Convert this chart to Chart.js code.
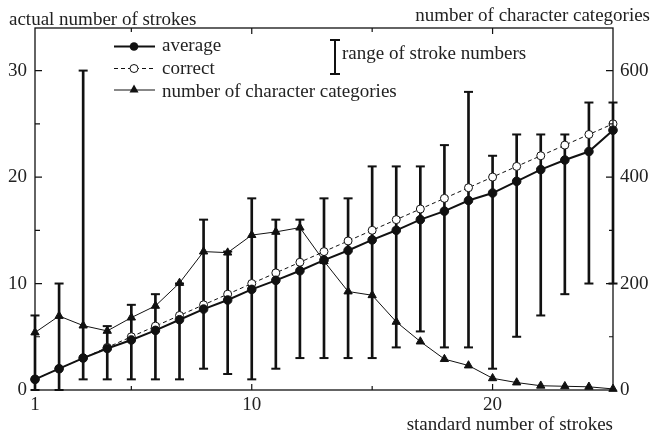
<!DOCTYPE html>
<html>
<head>
<meta charset="utf-8">
<script src="https://cdn.jsdelivr.net/npm/chart.js@4/dist/chart.umd.min.js"></script>
<style>
  html, body { margin: 0; padding: 0; background: #fff; }
  #wrap { width: 653px; height: 437px; position: relative; }
</style>
</head>
<body>
<div id="wrap"><canvas id="c"></canvas></div>
<script>
// Standard stroke counts (x axis)
const standardStrokes = [1,2,3,4,5,6,7,8,9,10,11,12,13,14,15,16,17,18,19,20,21,22,23,24,25];
// Average number of strokes actually written
const averageStrokes = [1.0,2.0,3.0,3.9,4.7,5.6,6.6,7.6,8.45,9.45,10.3,11.2,12.2,13.1,14.1,15.0,16.0,16.8,17.8,18.5,19.6,20.7,21.6,22.4,24.4];
// Correct number of strokes
const correctStrokes = [1,2,3,4,5,6,7,8,9,10,11,12,13,14,15,16,17,18,19,20,21,22,23,24,25];
// Number of character categories per stroke count (right axis)
const categoryCounts = [108,139,121,111,136,158,201,260,258,291,297,305,242,185,178,128,91,58,46,22,14,8,7,6,2];
// Range of stroke numbers (min / max)
const rangeMin = [0,0,1,1,1,1,1,2,1.5,1,2,3,3,3,3,4,5.5,4,4,2,5,7,9,10,10];
const rangeMax = [7,10,30,6,8,9,10,16,13,18,16,16,18,18,21,21,21,23,28,22,24,24,24,27,27];

// Tick labels and tick marks
const xTickLabels = [1, 10, 20];
const xMajorTicks = [10, 20];
const xMinorTicks = [5, 15];
const yTickLabels = [0, 10, 20, 30];
const yMinorTicks = [5, 15, 25];
const y2TickLabels = [0, 200, 400, 600];
const y2MinorTicks = [100, 300, 500];

const FONT = '"Liberation Serif", "Times New Roman", serif';
const INK = '#111';
const TEXT = '#222';

const pts = (ys) => standardStrokes.map((x, i) => ({ x: x, y: ys[i] }));

// Frame, inward tick marks, axis captions and legend
const decorations = {
  id: 'decorations',
  afterDraw(chart) {
    const { ctx, chartArea: a, scales } = chart;
    const xs = scales.x, ys = scales.y, y2 = scales.y2;
    ctx.save();
    ctx.strokeStyle = INK;
    ctx.lineWidth = 1.3;
    ctx.strokeRect(a.left, a.top, a.right - a.left, a.bottom - a.top);

    ctx.lineWidth = 1.2;
    ctx.beginPath();
    const vTick = (v, len) => {
      const px = xs.getPixelForValue(v);
      ctx.moveTo(px, a.bottom); ctx.lineTo(px, a.bottom - len);
      ctx.moveTo(px, a.top); ctx.lineTo(px, a.top + len);
    };
    xMajorTicks.forEach(v => vTick(v, 6));
    xMinorTicks.forEach(v => vTick(v, 4));
    yTickLabels.slice(1).forEach(v => {
      const py = ys.getPixelForValue(v);
      ctx.moveTo(a.left, py); ctx.lineTo(a.left + 7, py);
    });
    yMinorTicks.forEach(v => {
      const py = ys.getPixelForValue(v);
      ctx.moveTo(a.left, py); ctx.lineTo(a.left + 5, py);
    });
    y2TickLabels.slice(1).forEach(v => {
      const py = y2.getPixelForValue(v);
      ctx.moveTo(a.right, py); ctx.lineTo(a.right - 7, py);
    });
    y2MinorTicks.forEach(v => {
      const py = y2.getPixelForValue(v);
      ctx.moveTo(a.right, py); ctx.lineTo(a.right - 4, py);
    });
    ctx.stroke();

    // Axis captions
    ctx.fillStyle = TEXT;
    ctx.font = '19px ' + FONT;
    ctx.textBaseline = 'alphabetic';
    ctx.textAlign = 'left';
    ctx.fillText('actual number of strokes', 9, 25);
    ctx.textAlign = 'right';
    ctx.fillText('number of character categories', 650, 21);
    ctx.fillText('standard number of strokes', 613, 430);

    // Legend
    ctx.textAlign = 'left';
    const lx0 = 114, lx1 = 155, mx = 134, tx = 162;
    // average
    ctx.setLineDash([]);
    ctx.lineWidth = 2;
    ctx.beginPath(); ctx.moveTo(lx0, 46.5); ctx.lineTo(lx1, 46.5); ctx.stroke();
    ctx.fillStyle = INK;
    ctx.beginPath(); ctx.arc(mx, 46.5, 4.3, 0, Math.PI * 2); ctx.fill();
    ctx.fillStyle = TEXT;
    ctx.fillText('average', tx, 51);
    // correct
    ctx.lineWidth = 1;
    ctx.setLineDash([4, 3]);
    ctx.beginPath(); ctx.moveTo(lx0, 68.5); ctx.lineTo(lx1, 68.5); ctx.stroke();
    ctx.setLineDash([]);
    ctx.fillStyle = '#fff';
    ctx.beginPath(); ctx.arc(mx, 68.5, 4, 0, Math.PI * 2); ctx.fill(); ctx.stroke();
    ctx.fillStyle = TEXT;
    ctx.fillText('correct', tx, 73.5);
    // number of character categories
    ctx.beginPath(); ctx.moveTo(lx0, 90); ctx.lineTo(lx1, 90); ctx.stroke();
    ctx.fillStyle = INK;
    ctx.beginPath();
    ctx.moveTo(mx, 84.5); ctx.lineTo(mx + 4.5, 92.5); ctx.lineTo(mx - 4.5, 92.5); ctx.closePath(); ctx.fill();
    ctx.fillStyle = TEXT;
    ctx.fillText('number of character categories', tx, 96.5);
    // range of stroke numbers
    ctx.lineWidth = 2;
    ctx.beginPath();
    ctx.moveTo(335, 40); ctx.lineTo(335, 74);
    ctx.moveTo(330, 40); ctx.lineTo(340, 40);
    ctx.moveTo(330, 74); ctx.lineTo(340, 74);
    ctx.stroke();
    ctx.fillText('range of stroke numbers', 342, 58.5);
    ctx.restore();
  }
};

new Chart(document.getElementById('c'), {
  type: 'line',
  data: {
    datasets: [
      {
        label: 'average',
        data: pts(averageStrokes),
        yAxisID: 'y',
        borderColor: INK, borderWidth: 2,
        pointRadius: 4.3, pointBackgroundColor: INK, pointBorderColor: INK, pointBorderWidth: 1,
        clip: false, order: 1
      },
      {
        label: 'correct',
        data: pts(correctStrokes),
        yAxisID: 'y',
        borderColor: INK, borderWidth: 1, borderDash: [4, 3],
        pointRadius: 4, pointBackgroundColor: '#fff', pointBorderColor: INK, pointBorderWidth: 1,
        clip: false, order: 2
      },
      {
        label: 'number of character categories',
        data: pts(categoryCounts),
        yAxisID: 'y2',
        borderColor: INK, borderWidth: 1,
        pointStyle: 'triangle', pointRadius: 4.8,
        pointBackgroundColor: INK, pointBorderColor: INK, pointBorderWidth: 1,
        clip: false, order: 3
      },
      {
        type: 'bar',
        label: 'range of stroke numbers',
        data: standardStrokes.map((x, i) => ({ x: x, y: [rangeMin[i], rangeMax[i]] })),
        yAxisID: 'y',
        backgroundColor: INK, borderWidth: 0,
        barThickness: 2,
        clip: false, order: 10
      },
      {
        label: 'range min',
        data: pts(rangeMin),
        yAxisID: 'y',
        showLine: false,
        pointStyle: 'line', pointRadius: 4.5, pointBorderWidth: 2, pointBorderColor: INK,
        clip: false, order: 9
      },
      {
        label: 'range max',
        data: pts(rangeMax),
        yAxisID: 'y',
        showLine: false,
        pointStyle: 'line', pointRadius: 4.5, pointBorderWidth: 2, pointBorderColor: INK,
        clip: false, order: 9
      }
    ]
  },
  options: {
    responsive: true,
    maintainAspectRatio: false,
    animation: false,
    layout: { padding: { top: 28, left: 0, right: 0, bottom: 0 } },
    plugins: { legend: { display: false }, tooltip: { enabled: false } },
    scales: {
      x: {
        type: 'linear', min: 1, max: 25, offset: false,
        grid: { display: false, drawTicks: false },
        border: { display: false },
        afterBuildTicks: s => { s.ticks = xTickLabels.map(v => ({ value: v })); },
        afterFit: s => { s.height = 47; },
        ticks: { color: TEXT, font: { family: FONT, size: 19 }, padding: 4, maxRotation: 0, autoSkip: false }
      },
      y: {
        type: 'linear', position: 'left', min: 0, max: 34,
        grid: { display: false, drawTicks: false },
        border: { display: false },
        afterBuildTicks: s => { s.ticks = yTickLabels.map(v => ({ value: v })); },
        afterFit: s => { s.width = 35; },
        ticks: { color: TEXT, font: { family: FONT, size: 19 }, padding: 8 }
      },
      y2: {
        type: 'linear', position: 'right', min: 0, max: 680,
        grid: { display: false, drawTicks: false },
        border: { display: false },
        afterBuildTicks: s => { s.ticks = y2TickLabels.map(v => ({ value: v })); },
        afterFit: s => { s.width = 40; },
        ticks: { color: TEXT, font: { family: FONT, size: 19 }, padding: 7 }
      }
    }
  },
  plugins: [decorations]
});
</script>
</body>
</html>
